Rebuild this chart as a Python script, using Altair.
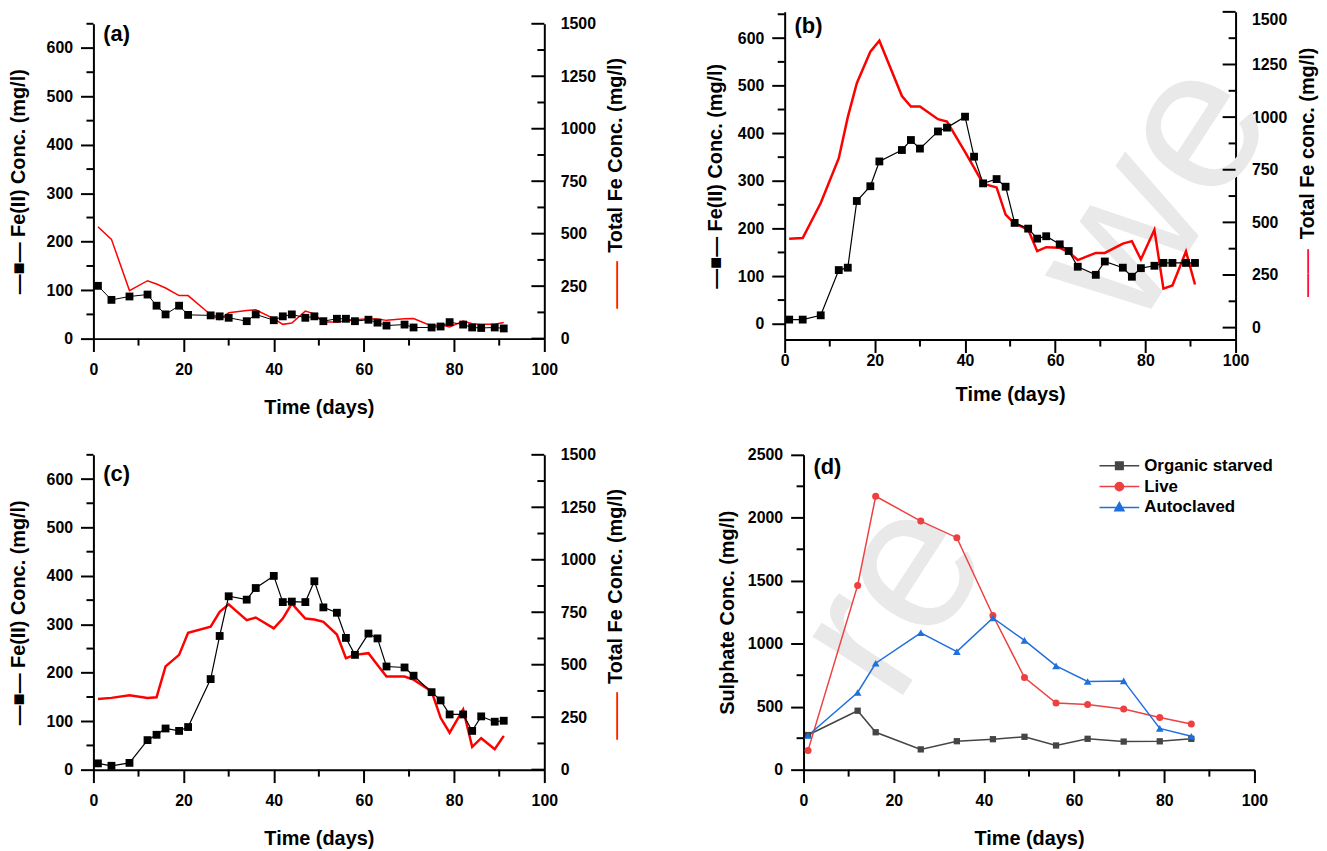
import altair as alt
import pandas as pd

FONT = "Liberation Sans"
W = 454
H = 317

# ---------------- data ----------------
days = [1, 4, 8, 12, 14, 16, 19, 21, 26, 28, 30, 34, 36, 40, 42, 44, 47, 49, 51, 54,
        56, 58, 61, 63, 65, 69, 71, 75, 77, 79, 82, 84, 86, 89, 91]

a_fe2 = [109, 80, 87, 91, 68, 50, 68, 49, 48, 46, 43, 36, 50, 38, 46, 50, 43, 46, 36, 41,
         41, 36, 39, 33, 27, 29, 23, 23, 25, 34, 29, 23, 22, 23, 21]
a_total = [533, 473, 229, 276, 260, 241, 205, 205, 114, 90, 123, 134, 137, 95, 68, 74, 131, 118, 79, 79,
           84, 90, 95, 93, 87, 95, 96, 60, 66, 55, 84, 71, 68, 68, 77]

b_fe2 = [9, 9, 18, 113, 118, 258, 289, 341, 365, 386, 368, 404, 412, 435, 351, 295, 304, 288, 212, 200,
         179, 184, 167, 153, 120, 103, 131, 118, 99, 117, 122, 128, 128, 128, 128]
b_total = [422, 426, 592, 805, 1000, 1161, 1311, 1363, 1100, 1050, 1050, 990, 979, 835, 760, 684, 666, 537, 494, 466,
           363, 382, 379, 359, 321, 355, 355, 399, 411, 324, 465, 185, 200, 362, 205]

c_fe2 = [13, 8, 14, 61, 72, 85, 80, 88, 187, 276, 358, 351, 375, 400, 346, 347, 346, 389, 335, 324,
         272, 237, 281, 271, 213, 211, 194, 160, 143, 114, 114, 80, 110, 99, 101]
c_total = [337, 342, 354, 342, 345, 492, 547, 652, 681, 752, 788, 712, 725, 673, 720, 791, 720, 715, 704, 644,
           531, 547, 555, 499, 444, 444, 429, 373, 247, 176, 287, 109, 150, 98, 161]

d_days = [1, 12, 16, 26, 34, 42, 49, 56, 63, 71, 79, 86]
d_organic = [275, 468, 297, 161, 226, 242, 261, 192, 245, 223, 225, 245]
d_live = [153, 1463, 2171, 1974, 1842, 1224, 732, 529, 518, 481, 415, 363]
d_auto = [271, 613, 845, 1087, 937, 1205, 1026, 824, 700, 705, 328, 265]
d_names = ["Organic starved", "Live", "Autoclaved"]
d_colors = ["#454545", "#ee4040", "#1f6fdd"]
d_shapes = ["square", "circle", "triangle-up"]

x_major_vals = [0, 20, 40, 60, 80, 100]
x_minor_vals = [10, 30, 50, 70, 90]
fe_major = [0, 100, 200, 300, 400, 500, 600]
fe_minor = [50, 150, 250, 350, 450, 550, 650]
tot_major = [0, 250, 500, 750, 1000, 1250, 1500]
tot_minor = [125, 375, 625, 875, 1125, 1375]
su_major = [0, 500, 1000, 1500, 2000, 2500]
su_minor = [250, 750, 1250, 1750, 2250]

# faint page watermark letters ("...reviewed") visible inside panels (b) and (d)
wm_b_letters = ["w", "e"]
wm_d_letters = ["r", "e"]

# legend symbols: line stub + marker (custom paths)
leg_paths = [
    "M-2,0L2,0M-0.38,-0.38L0.38,-0.38L0.38,0.38L-0.38,0.38Z",
    "M-2,0L2,0M-0.42,0A0.42,0.42 0 1,0 0.42,0A0.42,0.42 0 1,0 -0.42,0Z",
    "M-2,0L2,0M0,-0.5L0.46,0.32L-0.46,0.32Z",
]

XS = alt.Scale(domain=[0, 100], nice=False, zero=False)


def watermark(letters, anchors):
    out = []
    for ch, (px, py) in zip(letters, anchors):
        out.append(alt.Chart(pd.DataFrame({"t": [ch]})).mark_text(
            font=FONT, fontSize=205, color="#e9e9e9", angle=303, align="center", baseline="alphabetic"
        ).encode(text="t:N", x=alt.value(px), y=alt.value(py)))
    return out


def tag_layer(tag, ty):
    return alt.Chart(pd.DataFrame({"t": [tag]})).mark_text(
        font=FONT, fontSize=22, fontWeight="bold", align="left", baseline="top", color="black"
    ).encode(text="t:N", x=alt.value(10), y=alt.value(ty))


def y_ticks(vals, scale, x0, x1):
    return alt.Chart(pd.DataFrame({"v": vals})).mark_rule(color="black", strokeWidth=2).encode(
        y=alt.Y("v:Q", scale=scale, axis=None), x=alt.value(x0), x2=alt.value(x1))


def x_ticks(vals, height, length):
    return alt.Chart(pd.DataFrame({"v": vals})).mark_rule(color="black", strokeWidth=2).encode(
        x=alt.X("v:Q", scale=XS, axis=None), y=alt.value(height), y2=alt.value(height + length))


def fe_panel(tag, fe2, total, left_dom, right_dom, height, right_title, x_lab_pad, x_title_pad,
             tag_y, red_w, black_w, left_title_pad, right_flush=False, wm=None):
    df = pd.DataFrame({"day": days, "fe2": fe2, "total": total})
    base = alt.Chart(df)
    yl = alt.Scale(domain=left_dom, nice=False, zero=False)
    yr = alt.Scale(domain=right_dom, nice=False, zero=False)

    x_major = alt.Axis(values=x_major_vals, tickSize=13, labelPadding=x_lab_pad, labelFlush=False,
                       format="d", title="Time (days)", titlePadding=x_title_pad)
    y_major = alt.Axis(orient="left", values=fe_major, tickSize=13, labelPadding=8, format="d",
                       title="—■— Fe(II) Conc. (mg/l)", titlePadding=left_title_pad)
    r_axis = alt.Axis(orient="right", values=tot_major, tickSize=0, labelPadding=16, labelFlush=right_flush,
                      format="d", title=right_title, titleAngle=270, titleX=72, titleY=132,
                      titleAlign="center", titleBaseline="middle")

    red = base.mark_line(color="#ff0000", strokeWidth=red_w).encode(
        x=alt.X("day:Q", scale=XS, axis=None),
        y=alt.Y("total:Q", scale=yr, axis=r_axis))
    black = base.mark_line(color="black", strokeWidth=black_w).encode(
        x=alt.X("day:Q", scale=XS, axis=x_major),
        y=alt.Y("fe2:Q", scale=yl, axis=y_major))
    pts = base.mark_point(shape="square", filled=True, size=62, color="black", opacity=1).encode(
        x=alt.X("day:Q", scale=XS, axis=None),
        y=alt.Y("fe2:Q", scale=yl, axis=None))
    red_key = alt.Chart(pd.DataFrame({"t": ["——"]})).mark_text(
        font=FONT, fontSize=24, color="#ff0000", angle=270, align="center", baseline="middle"
    ).encode(text="t:N", x=alt.value(W + 72), y=alt.value(263))

    layers = (watermark(*wm) if wm else []) + [
        red, black, pts,
        y_ticks(fe_minor, yl, -7, 0),
        y_ticks(tot_major, yr, W - 13, W),
        y_ticks(tot_minor, yr, W - 7, W),
        x_ticks(x_minor_vals, height, 7),
        red_key,
        tag_layer(tag, tag_y),
    ]
    return alt.layer(*layers).resolve_scale(y="independent").resolve_axis(
        x="independent", y="independent").properties(width=W, height=height)


def sulphate_panel():
    n = len(d_days)
    df = pd.DataFrame({
        "day": d_days * 3,
        "conc": d_organic + d_live + d_auto,
        "series": [d_names[0]] * n + [d_names[1]] * n + [d_names[2]] * n,
    })
    base = alt.Chart(df)
    ys = alt.Scale(domain=[0, 2500], nice=False, zero=False)
    x_major = alt.Axis(values=x_major_vals, tickSize=13, labelPadding=10, labelFlush=False, format="d",
                       title="Time (days)", titlePadding=20)
    y_major = alt.Axis(orient="left", values=su_major, tickSize=13, labelPadding=8, format="d",
                       title="Sulphate Conc. (mg/l)", titlePadding=10)

    layers = watermark(wm_d_letters, [(111, 225), (160, 148)])
    sizes = [40, 50, 60]
    for i, (name, col) in enumerate(zip(d_names, d_colors)):
        sub = base.transform_filter(alt.datum.series == name)
        ax_x = x_major if i == 0 else None
        ax_y = y_major if i == 0 else None
        layers.append(sub.mark_line(color=col, strokeWidth=1.5).encode(
            x=alt.X("day:Q", scale=XS, axis=ax_x),
            y=alt.Y("conc:Q", scale=ys, axis=ax_y)))
    for i, (name, col, shp) in enumerate(zip(d_names, d_colors, d_shapes)):
        sub = base.transform_filter(alt.datum.series == name)
        layers.append(sub.mark_point(shape=shp, filled=True, size=sizes[i], color=col, opacity=1).encode(
            x=alt.X("day:Q", scale=XS, axis=None),
            y=alt.Y("conc:Q", scale=ys, axis=None)))
    layers.append(y_ticks(su_minor, ys, -7, 0))
    layers.append(x_ticks(x_minor_vals, H, 7))

    leg = alt.Legend(orient="none", legendX=1022, legendY=446, title=None, symbolSize=400,
                     symbolStrokeWidth=1.5, symbolOpacity=1, labelOffset=14, labelFont=FONT,
                     labelFontSize=17, labelFontWeight="bold", labelColor="black", rowPadding=2,
                     padding=0, labelLimit=300)
    cscale = alt.Scale(domain=d_names, range=d_colors)
    layers.append(base.transform_filter(alt.datum.day < 0).mark_point(filled=False, opacity=1, strokeWidth=1.5).encode(
        x=alt.X("day:Q", scale=XS, axis=None),
        y=alt.Y("conc:Q", scale=ys, axis=None),
        color=alt.Color("series:N", scale=cscale, legend=leg),
        fill=alt.Fill("series:N", scale=cscale, legend=leg),
        shape=alt.Shape("series:N", scale=alt.Scale(domain=d_names, range=leg_paths), legend=leg)))
    layers.append(tag_layer("(d)", 2))
    return alt.layer(*layers).resolve_axis(x="independent", y="independent").properties(width=W, height=H)


pa = fe_panel("(a)", a_fe2, a_total, [0, 650], [0, 1500], H, "Total Fe Conc. (mg/l)", 10, 20, 0, 1.5, 1.0, 18)
pb = fe_panel("(b)", b_fe2, b_total, [-33, 655], [-57, 1500], 330, "Total Fe conc. (mg/l)", 0, 16, 4, 2.5, 1.2, 12,
              right_flush=True, wm=(wm_b_letters, [(393, 262), (465, 152)]))
pc = fe_panel("(c)", c_fe2, c_total, [0, 650], [0, 1500], H, "Total Fe Conc. (mg/l)", 10, 20, 9, 2.5, 1.2, 18)
pd_ = sulphate_panel()

spacer = alt.Chart(pd.DataFrame({"v": [0]})).mark_rule(opacity=0).encode(
    x=alt.value(0), y=alt.value(0), y2=alt.value(1)).properties(width=1, height=1)

row1 = alt.hconcat(alt.vconcat(spacer, pa, spacing=3), pb, spacing=78)
row2 = alt.hconcat(pc, pd_, spacing=90)
chart = alt.vconcat(row1, row2, spacing=30).properties(
    padding={"left": 0, "top": 0, "right": 0, "bottom": 0}
).configure_view(stroke=None).configure_axis(
    labelFont=FONT, labelFontSize=16, labelFontWeight="bold", labelColor="black",
    titleFont=FONT, titleFontSize=20, titleFontWeight="bold", titleColor="black",
    domainColor="black", domainWidth=2, tickColor="black", tickWidth=2, grid=False
)

chart.save("out.html", embed_options={"renderer": "svg", "actions": False})
